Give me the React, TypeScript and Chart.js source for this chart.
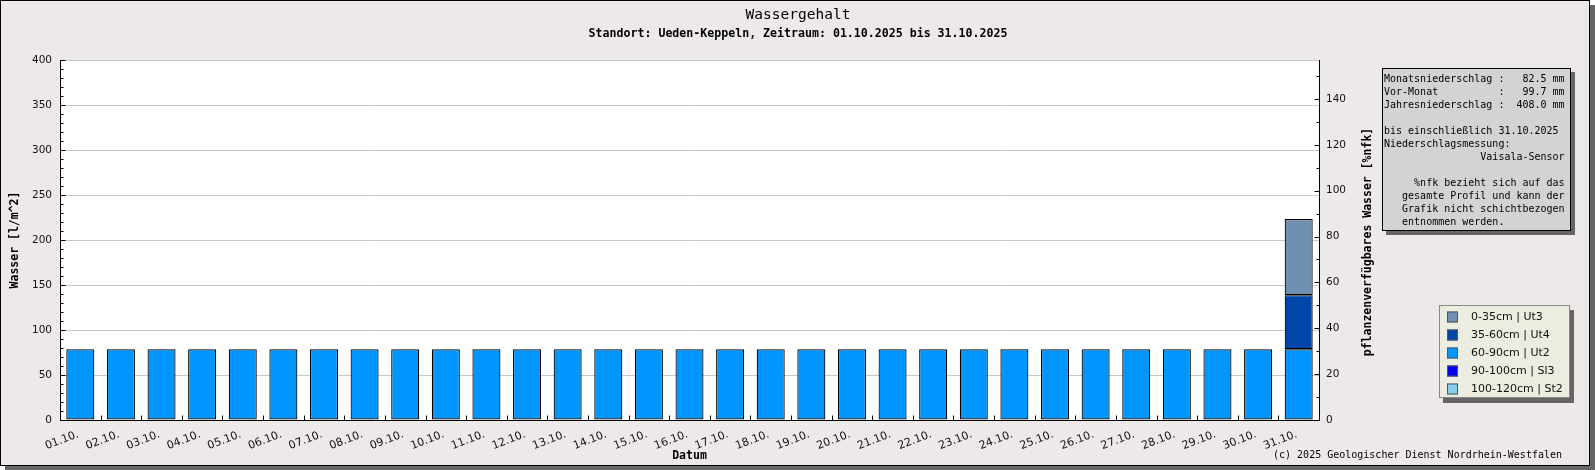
import React, { useRef, useEffect } from 'react';
import { Chart } from 'chart.js/auto';

const days = [
  '01.10.', '02.10.', '03.10.', '04.10.', '05.10.', '06.10.', '07.10.', '08.10.',
  '09.10.', '10.10.', '11.10.', '12.10.', '13.10.', '14.10.', '15.10.', '16.10.',
  '17.10.', '18.10.', '19.10.', '20.10.', '21.10.', '22.10.', '23.10.', '24.10.',
  '25.10.', '26.10.', '27.10.', '28.10.', '29.10.', '30.10.', '31.10.',
];

// layers in legend order (top of profile first)
const layerLabels = ['0-35cm | Ut3', '35-60cm | Ut4', '60-90cm | Ut2', '90-100cm | Sl3', '100-120cm | St2'];
const layerColors = ['#7090b0', '#0046aa', '#0096ff', '#0000ee', '#87ceeb'];

const ut3 = [null, null, null, null, null, null, null, null, null, null, null, null, null, null, null, null,
  null, null, null, null, null, null, null, null, null, null, null, null, null, null, 84.5];
const ut4 = [null, null, null, null, null, null, null, null, null, null, null, null, null, null, null, null,
  null, null, null, null, null, null, null, null, null, null, null, null, null, null, 60.1];
const ut2 = [78.6, 78.6, 78.6, 78.6, 78.6, 78.6, 78.6, 78.6, 78.6, 78.6, 78.6, 78.6, 78.6, 78.6, 78.6, 78.6,
  78.6, 78.6, 78.6, 78.6, 78.6, 78.6, 78.6, 78.6, 78.6, 78.6, 78.6, 78.6, 78.6, 78.6, 78.6];
const sl3: (number | null)[] = days.map(() => null);
const st2: (number | null)[] = days.map(() => null);

const leftTicks = [0, 50, 100, 150, 200, 250, 300, 350, 400];
const rightTicks = [0, 20, 40, 60, 80, 100, 120, 140];
const rightMax = 157;

const infoLines = [
  'Monatsniederschlag :   82.5 mm',
  'Vor-Monat          :   99.7 mm',
  'Jahresniederschlag :  408.0 mm',
  '',
  'bis einschließlich 31.10.2025',
  'Niederschlagsmessung:',
  '                Vaisala-Sensor',
  '',
  '     %nfk bezieht sich auf das',
  '   gesamte Profil und kann der',
  '   Grafik nicht schichtbezogen',
  '   entnommen werden.',
];

const W = 1595;
const H = 470;
const MONO = '"DejaVu Sans Mono", monospace';
const SANS = '"DejaVu Sans", sans-serif';

const decorPlugin = {
  id: 'decor',
  beforeDraw(chart: any) {
    const ctx = chart.ctx;
    const a = chart.chartArea;
    ctx.save();
    ctx.fillStyle = '#ffffff';
    ctx.fillRect(0, 0, W, H);
    ctx.fillStyle = '#666666';
    ctx.fillRect(5, 5, W - 5, H - 5);
    ctx.fillStyle = '#ece9e8';
    ctx.fillRect(0, 0, 1590, 466);
    ctx.strokeStyle = '#000';
    ctx.lineWidth = 1;
    ctx.strokeRect(0.5, 0.5, 1589, 465);
    ctx.fillStyle = '#ffffff';
    ctx.fillRect(a.left, a.top, a.right - a.left, a.bottom - a.top);
    ctx.restore();
  },
  afterDatasetsDraw(chart: any) {
    const ctx = chart.ctx;
    const a = chart.chartArea;
    const y = chart.scales.y;
    const y2 = chart.scales.y2;
    ctx.save();
    ctx.strokeStyle = '#000';
    ctx.lineWidth = 1;
    ctx.beginPath();
    const l = Math.round(a.left) + 0.5;
    const r = Math.round(a.right) + 0.5;
    const b = Math.round(a.bottom) + 0.5;
    ctx.moveTo(l, a.top);
    ctx.lineTo(l, b);
    ctx.lineTo(r, b);
    ctx.lineTo(r, a.top);
    for (let v = 0; v <= 400; v += 10) {
      const py = Math.round(y.getPixelForValue(v)) + 0.5;
      ctx.moveTo(l, py);
      ctx.lineTo(l + (v % 50 === 0 ? 5 : 3), py);
    }
    for (let v = 0; v <= rightMax; v += 10) {
      const py = Math.round(y2.getPixelForValue(v)) + 0.5;
      ctx.moveTo(r, py);
      ctx.lineTo(r - (v % 20 === 0 ? 5 : 3), py);
    }
    const step = (a.right - a.left) / days.length;
    for (let i = 1; i < days.length; i++) {
      const px = Math.round(a.left + i * step) + 0.5;
      ctx.moveTo(px, b);
      ctx.lineTo(px, b - 5);
    }
    ctx.stroke();
    ctx.restore();
  },
  afterDraw(chart: any) {
    const ctx = chart.ctx;
    const a = chart.chartArea;
    const midY = (a.top + a.bottom) / 2;
    ctx.save();
    ctx.fillStyle = '#000';
    ctx.textAlign = 'center';
    ctx.textBaseline = 'alphabetic';
    ctx.font = `14.5px ${MONO}`;
    ctx.fillText('Wassergehalt', 798, 18.5);
    ctx.font = `bold 11.6px ${MONO}`;
    ctx.fillText('Standort: Ueden-Keppeln, Zeitraum: 01.10.2025 bis 31.10.2025', 798, 37);

    ctx.font = `bold 11.5px ${MONO}`;
    ctx.textBaseline = 'middle';
    ctx.fillText('Datum', (a.left + a.right) / 2, 456.5);
    ctx.save();
    ctx.translate(15, midY);
    ctx.rotate(-Math.PI / 2);
    ctx.fillText('Wasser [l/m^2]', 0, 0);
    ctx.restore();
    ctx.save();
    ctx.translate(1368, midY + 2);
    ctx.rotate(-Math.PI / 2);
    ctx.fillText('pflanzenverfügbares Wasser [%nfk]', 0, 0);
    ctx.restore();

    ctx.font = `10px ${MONO}`;
    ctx.textAlign = 'right';
    ctx.fillText('(c) 2025 Geologischer Dienst Nordrhein-Westfalen', 1562, 455);

    // info box
    ctx.fillStyle = '#666666';
    ctx.fillRect(1386, 72, 189, 163);
    ctx.fillStyle = '#d3d3d3';
    ctx.fillRect(1382, 68, 189, 163);
    ctx.strokeStyle = '#000';
    ctx.strokeRect(1382.5, 68.5, 188, 162);
    ctx.fillStyle = '#000';
    ctx.textAlign = 'left';
    ctx.font = `10px ${MONO}`;
    infoLines.forEach((line, i) => {
      ctx.fillText(line, 1384, 79.5 + i * 13);
    });

    // legend
    ctx.fillStyle = '#666666';
    ctx.fillRect(1443, 310, 131, 93);
    ctx.fillStyle = '#ecece0';
    ctx.fillRect(1439, 305, 131, 93);
    ctx.strokeStyle = '#888888';
    ctx.strokeRect(1439.5, 305.5, 130, 92);
    ctx.font = `11px ${SANS}`;
    layerLabels.forEach((lab, i) => {
      const cy = 317 + i * 18;
      ctx.fillStyle = layerColors[i];
      ctx.fillRect(1447, cy - 5.5, 11, 11);
      ctx.strokeStyle = '#555555';
      ctx.strokeRect(1447.5, cy - 5, 10, 10);
      ctx.fillStyle = '#111';
      ctx.fillText(lab, 1471, cy + 0.5);
    });
    ctx.restore();
  },
};

// stacked bottom-up: deepest layer first
const stackSeries = [st2, sl3, ut2, ut4, ut3];

const App: React.FC = () => {
  const chartRef = useRef<HTMLCanvasElement>(null);
  const chartInstance = useRef<Chart | null>(null);

  useEffect(() => {
    if (chartInstance.current) {
      chartInstance.current.destroy();
    }
    const ctx = chartRef.current?.getContext('2d');
    if (!ctx) return;

    const datasets = stackSeries.map((d, i) => {
      const li = layerLabels.length - 1 - i;
      return {
        label: layerLabels[li],
        data: d,
        backgroundColor: layerColors[li],
        borderColor: '#000000',
        borderWidth: 1.2,
        borderSkipped: false as const,
        barPercentage: 0.69,
        categoryPercentage: 1,
        yAxisID: 'y',
      };
    });

    chartInstance.current = new Chart(ctx, {
      type: 'bar',
      data: {
        labels: days,
        datasets: [
          ...datasets,
          { label: 'nfk', data: [], yAxisID: 'y2' } as any,
        ],
      },
      plugins: [decorPlugin],
      options: {
        responsive: false,
        animation: false,
        events: [],
        layout: { padding: { top: 60, left: 0, right: 0, bottom: 0 } },
        plugins: {
          legend: { display: false },
          title: { display: false },
          tooltip: { enabled: false },
        },
        scales: {
          x: {
            stacked: true,
            offset: true,
            grid: { display: false, drawTicks: false },
            border: { display: false },
            ticks: {
              autoSkip: false,
              minRotation: 21,
              maxRotation: 21,
              padding: 8,
              labelOffset: -2,
              color: '#111',
              font: { family: SANS, size: 11 },
            },
            afterFit: (s: any) => { s.height = 50; },
          },
          y: {
            stacked: true,
            position: 'left',
            min: 0,
            max: 400,
            grid: { color: '#c8c8c8', lineWidth: 1, drawTicks: false },
            border: { display: false },
            afterBuildTicks: (s: any) => { s.ticks = leftTicks.map((v) => ({ value: v })); },
            ticks: {
              padding: 8,
              color: '#111',
              font: { family: SANS, size: 10.5 },
            },
            afterFit: (s: any) => { s.width = 60; },
          },
          y2: {
            position: 'right',
            min: 0,
            max: rightMax,
            grid: { display: false, drawTicks: false },
            border: { display: false },
            afterBuildTicks: (s: any) => { s.ticks = rightTicks.map((v) => ({ value: v })); },
            ticks: {
              padding: 7,
              color: '#111',
              font: { family: SANS, size: 10.5 },
            },
            afterFit: (s: any) => { s.width = 276; },
          },
        },
      },
    });

    return () => {
      chartInstance.current?.destroy();
      chartInstance.current = null;
    };
  }, []);

  return (
    <div style={{ position: 'absolute', left: 0, top: 0, width: W, height: H }}>
      <canvas ref={chartRef} width={W} height={H} style={{ display: 'block', width: W, height: H }}></canvas>
    </div>
  );
};

export default App;
